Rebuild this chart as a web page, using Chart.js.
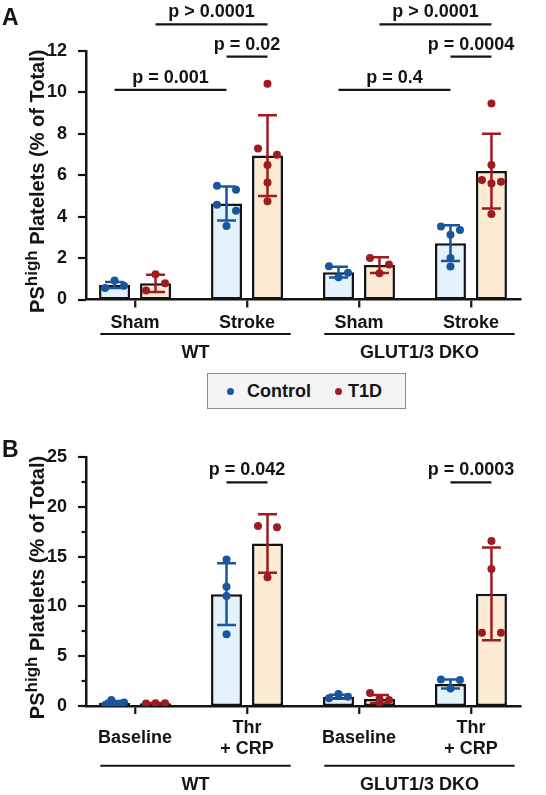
<!DOCTYPE html>
<html><head><meta charset="utf-8">
<script src="https://cdn.jsdelivr.net/npm/chart.js@4.4.1/dist/chart.umd.min.js"></script>
<style>
html,body{margin:0;padding:0;background:#fff;}
body{width:546px;height:795px;position:relative;overflow:hidden;font-family:"Liberation Sans",Arial,sans-serif;}
#wa{position:absolute;left:0;top:0;width:546px;height:365px;}
#wb{position:absolute;left:0;top:420px;width:546px;height:375px;}
#legend{position:absolute;left:207px;top:373px;width:199px;height:36px;box-sizing:border-box;border:1.5px solid #8c8c8c;background:#f4f4f4;font:bold 18px "Liberation Sans",Arial,sans-serif;color:#141414;}
#legend .dot{position:absolute;top:14px;width:7px;height:7px;border-radius:50%;}
#legend .txt{position:absolute;top:0;line-height:34px;white-space:nowrap;}
</style>
</head><body>
<div id="wa"><canvas id="ca" width="546" height="365"></canvas></div>
<div id="legend">
  <span class="dot" style="left:19px;background:#1a56a0"></span><span class="txt" style="left:39px" id="l0"></span>
  <span class="dot" style="left:127px;background:#9e1b1f"></span><span class="txt" style="left:140px" id="l1"></span>
</div>
<div id="wb"><canvas id="cb" width="546" height="375"></canvas></div>
<script>
// ---------- data ----------
const seriesNames = ['Control', 'T1D'];
const groupLabels = ['WT', 'GLUT1/3 DKO'];
const groupSpans = [[0, 1], [2, 3]];

// Panel A
const categoriesA = ['Sham', 'Stroke', 'Sham', 'Stroke'];
const ctrlMeanA = [0.70, 4.64, 1.32, 2.72];
const ctrlSdA   = [0.15, 0.82, 0.26, 0.86];
const t1dMeanA  = [0.78, 6.95, 1.66, 6.20];
const t1dSdA    = [0.42, 1.95, 0.38, 1.80];
const ctrlPointsA = [[0.55, 0.92, 0.66], [5.49, 5.30, 4.58, 4.29, 3.55], [1.61, 1.08, 1.29], [3.53, 3.36, 3.13, 2.01, 1.59]];
const t1dPointsA  = [[0.44, 1.22, 0.79], [10.42, 7.29, 6.99, 6.49, 5.65, 4.74], [2.01, 1.27, 1.69], [9.46, 6.49, 5.77, 5.60, 5.69, 4.13]];
const yMaxA = 12, yStepA = 1, yLabelEveryA = 2;
const compFromA  = [[0, 0], [0, 1], [1, 0], [2, 0], [2, 1], [3, 0]];
const compToA    = [[1, 0], [1, 1], [1, 1], [3, 0], [3, 1], [3, 1]];
const compLevelA = [10.12, 13.29, 11.73, 10.12, 13.29, 11.73];
const compLabelA = ['p = 0.001', 'p > 0.0001', 'p = 0.02', 'p = 0.4', 'p > 0.0001', 'p = 0.0004'];

// Panel B
const categoriesB = [['Baseline'], ['Thr', '+ CRP'], ['Baseline'], ['Thr', '+ CRP']];
const ctrlMeanB = [0.31, 11.23, 0.92, 2.20];
const ctrlSdB   = [0.20, 3.10, 0.20, 0.45];
const t1dMeanB  = [0.27, 16.31, 0.70, 11.26];
const t1dSdB    = [0.03, 2.93, 0.40, 4.65];
const ctrlPointsB = [[0.10, 0.60, 0.20, 0.35], [14.70, 11.98, 11.04, 7.20], [0.77, 1.20, 0.93], [2.65, 1.75, 2.60]];
const t1dPointsB  = [[0.25, 0.27, 0.28], [18.07, 12.92, 17.94], [1.30, 0.35, 0.70, 0.60], [16.57, 13.75, 7.36, 7.36]];
const yMaxB = 25, yStepB = 2.5, yLabelEveryB = 5;
const compFromB  = [[1, 0], [3, 0]];
const compToB    = [[1, 1], [3, 1]];
const compLevelB = [22.46, 22.46];
const compLabelB = ['p = 0.042', 'p = 0.0003'];

// ---------- style ----------
const FONT = '"Liberation Sans", Arial, Helvetica, sans-serif';
Chart.defaults.font.family = FONT;
Chart.defaults.color = '#141414';
const INK = '#141414';
const COLORS = ['#1a56a0', '#9e1b1f'];
const FILLS = ['#e4f2fb', '#fdebd4'];

document.getElementById('l0').textContent = seriesNames[0];
document.getElementById('l1').textContent = seriesNames[1];

// beeswarm-like horizontal spreading (pixel offsets) computed from the y scale
function swarm(vals, yScale) {
  const ROW = 8, HALF = 9.5;
  const py = vals.map(v => yScale.getPixelForValue(v));
  const order = vals.map((v, i) => i).sort((a, b) => vals[b] - vals[a]);
  const rows = []; let cur = null;
  order.forEach(i => {
    if (cur && Math.abs(py[i] - py[cur[0]]) < ROW) cur.push(i);
    else { cur = [i]; rows.push(cur); }
  });
  const off = new Array(vals.length).fill(0);
  rows.forEach(r => {
    r.sort((a, b) => a - b);
    const n = r.length;
    r.forEach((i, j) => { off[i] = n === 1 ? 0 : -HALF + j * 2 * HALF / (n - 1); });
  });
  return off;
}

function makePanel(canvasId, P) {
  const decor = {
    id: 'decor',
    afterDatasetDraw(chart, args) {
      if (args.meta.type !== 'bar') return;
      const ds = chart.data.datasets[args.index];
      const y = chart.scales.y, c = chart.ctx;
      c.save();
      c.strokeStyle = ds.errColor; c.lineWidth = 2.5; c.lineCap = 'butt';
      args.meta.data.forEach((bar, i) => {
        const m = ds.data[i].y, s = ds.sd[i];
        const yt = y.getPixelForValue(m + s), yb = y.getPixelForValue(m - s);
        c.beginPath();
        c.moveTo(bar.x, yt); c.lineTo(bar.x, yb);
        c.moveTo(bar.x - 9.5, yt); c.lineTo(bar.x + 9.5, yt);
        c.moveTo(bar.x - 9.5, yb); c.lineTo(bar.x + 9.5, yb);
        c.stroke();
      });
      c.restore();
    },
    afterDraw(chart) {
      const c = chart.ctx, a = chart.chartArea, x = chart.scales.x, y = chart.scales.y;
      c.save();
      c.strokeStyle = INK; c.fillStyle = INK;
      // y tick marks (major/minor)
      c.lineWidth = 2.2;
      y.ticks.forEach(t => {
        const py = Math.round(y.getPixelForValue(t.value));
        const major = Math.abs(t.value / P.yLabelEvery - Math.round(t.value / P.yLabelEvery)) < 1e-6;
        c.beginPath(); c.moveTo(a.left, py); c.lineTo(a.left - (major ? 8 : 4.5), py); c.stroke();
      });
      // comparison brackets
      const barX = (cat, s) => chart.getDatasetMeta(s).data[cat].x;
      c.font = 'bold 18px ' + FONT; c.textAlign = 'center'; c.textBaseline = 'alphabetic';
      c.lineWidth = 2.2;
      P.compLevel.forEach((lv, k) => {
        const x1 = barX(P.compFrom[k][0], P.compFrom[k][1]);
        const x2 = barX(P.compTo[k][0], P.compTo[k][1]);
        const py = y.getPixelForValue(lv);
        c.beginPath(); c.moveTo(x1, py); c.lineTo(x2, py); c.stroke();
        c.fillText(P.compLabel[k], (x1 + x2) / 2, py - 7);
      });
      // group brackets under the axis
      c.lineWidth = 2;
      c.textBaseline = 'middle';
      groupSpans.forEach((g, k) => {
        const x1 = x.getPixelForValue(g[0] - 0.31), x2 = x.getPixelForValue(g[1] + 0.39);
        const gy = a.bottom + P.groupLineOffset;
        c.beginPath(); c.moveTo(x1, gy); c.lineTo(x2, gy); c.stroke();
        c.fillText(groupLabels[k], (x1 + x2) / 2, gy + 19);
      });
      // y axis title with superscript
      const fMain = 'bold 20px ' + FONT, fSup = 'bold 17px ' + FONT;
      c.font = fMain;
      const wPS = c.measureText('PS').width, rest = ' Platelets (% of Total)', wRest = c.measureText(rest).width;
      c.font = fSup;
      const wHigh = c.measureText('high').width;
      const total = wPS + wHigh + wRest;
      const cy = (a.top + a.bottom) / 2 + 6;
      c.translate(36.5, cy); c.rotate(-Math.PI / 2);
      c.textAlign = 'left'; c.textBaseline = 'alphabetic';
      const x0 = -total / 2;
      c.font = fMain; c.fillText('PS', x0, 7);
      c.font = fSup; c.fillText('high', x0 + wPS, 0.5);
      c.font = fMain; c.fillText(rest, x0 + wPS + wHigh, 7);
      c.setTransform(1, 0, 0, 1, 0, 0);
      // panel letter
      c.font = 'bold 23px ' + FONT; c.textAlign = 'left'; c.textBaseline = 'alphabetic';
      c.fillText(P.letter, 2, P.letterBaseline);
      c.restore();
    }
  };

  const bar = (s, means, sds) => ({
    type: 'bar', label: seriesNames[s], data: means.map((m, i) => ({ x: i, y: m })),
    sd: sds, errColor: COLORS[s], backgroundColor: FILLS[s], borderColor: INK, borderWidth: 2.5,
    borderSkipped: false, barPercentage: 0.756, categoryPercentage: 0.732, order: 2
  });
  const pts = (s, groups) => ({
    type: 'scatter', label: seriesNames[s], data: groups.flatMap((g, i) => g.map(v => ({ x: i, y: v }))),
    groups, backgroundColor: COLORS[s], borderWidth: 0, pointRadius: 4, pointHoverRadius: 4, order: 1
  });

  const chart = new Chart(document.getElementById(canvasId), {
    type: 'bar',
    data: { datasets: [bar(0, P.ctrlMean, P.ctrlSd), bar(1, P.t1dMean, P.t1dSd), pts(0, P.ctrlPts), pts(1, P.t1dPts)] },
    options: {
      responsive: false, animation: false, events: [],
      layout: { padding: { top: P.top, right: 26, left: 0, bottom: 0 } },
      plugins: { legend: { display: false }, tooltip: { enabled: false } },
      scales: {
        x: {
          type: 'linear', offset: false, min: -0.438, max: P.categories.length - 1 + 0.438,
          afterBuildTicks: s => { s.ticks = P.categories.map((c, i) => ({ value: i })); },
          afterFit: s => { s.height = P.xHeight; },
          ticks: { callback: (v, i) => P.categories[i], font: { size: 18, weight: 'bold', lineHeight: 1.17 },
                   color: INK, padding: P.xPad, maxRotation: 0, autoSkip: false, crossAlign: 'center' },
          grid: { display: true, offset: false, drawOnChartArea: false, drawTicks: true, tickLength: 8, tickWidth: 2.2, tickColor: INK, lineWidth: 2.5, color: INK },
          border: { display: true, width: 2.5, color: INK }
        },
        y: {
          min: 0, max: P.yMax,
          afterFit: s => { s.width = 86; },
          ticks: { stepSize: P.yStep, padding: 11, color: INK, font: { size: 18, weight: 'bold' },
                   callback: v => (Math.abs(v / P.yLabelEvery - Math.round(v / P.yLabelEvery)) < 1e-6 ? v : '') },
          grid: { display: false },
          border: { display: true, width: 2.5, color: INK }
        }
      }
    },
    plugins: [decor]
  });

  // spread the dots horizontally around their bar
  const yS = chart.scales.y, xS = chart.scales.x;
  [0, 1].forEach(s => {
    const meta = chart.getDatasetMeta(s);
    const ds = chart.data.datasets[2 + s];
    const out = [];
    ds.groups.forEach((g, i) => {
      const off = swarm(g, yS);
      g.forEach((v, k) => out.push({ x: xS.getValueForPixel(meta.data[i].x + off[k]), y: v }));
    });
    ds.data = out;
  });
  chart.update('none');
  return chart;
}

makePanel('ca', {
  categories: categoriesA, ctrlMean: ctrlMeanA, ctrlSd: ctrlSdA, t1dMean: t1dMeanA, t1dSd: t1dSdA,
  ctrlPts: ctrlPointsA, t1dPts: t1dPointsA, yMax: yMaxA, yStep: yStepA, yLabelEvery: yLabelEveryA,
  compFrom: compFromA, compTo: compToA, compLevel: compLevelA, compLabel: compLabelA,
  top: 51, xHeight: 65.5, xPad: 16, groupLineOffset: 34.5, letter: 'A', letterBaseline: 25
});
makePanel('cb', {
  categories: categoriesB, ctrlMean: ctrlMeanB, ctrlSd: ctrlSdB, t1dMean: t1dMeanB, t1dSd: t1dSdB,
  ctrlPts: ctrlPointsB, t1dPts: t1dPointsB, yMax: yMaxB, yStep: yStepB, yLabelEvery: yLabelEveryB,
  compFrom: compFromB, compTo: compToB, compLevel: compLevelB, compLabel: compLabelB,
  top: 37, xHeight: 89, xPad: 14, groupLineOffset: 59.7, letter: 'B', letterBaseline: 37
});
</script>
</body></html>
